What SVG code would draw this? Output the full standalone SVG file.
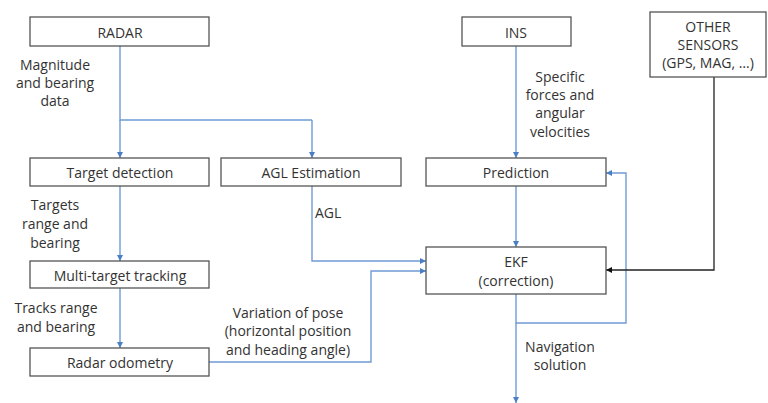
<svg xmlns="http://www.w3.org/2000/svg" width="768" height="403" viewBox="0 0 768 403">
<defs>
<marker id="ab" viewBox="0 0 6 6" refX="6" refY="3" markerWidth="6" markerHeight="6" markerUnits="userSpaceOnUse" orient="auto"><path d="M0,0 L6,3 L0,6 Z" fill="#4a7fc4"/></marker>
<marker id="ak" viewBox="0 0 6 6" refX="6" refY="3" markerWidth="6" markerHeight="6" markerUnits="userSpaceOnUse" orient="auto"><path d="M0,0 L6,3 L0,6 Z" fill="#111"/></marker>
</defs>
<style>
rect{fill:#fff;stroke:#555;stroke-width:1.3}
text{font-family:"Open Sans","Noto Sans","Liberation Sans",sans-serif;font-size:14px;fill:#333;text-anchor:middle;dominant-baseline:central}
.c{fill:none;stroke:#6f9bd6;stroke-width:1.4;marker-end:url(#ab)}
.n{fill:none;stroke:#6f9bd6;stroke-width:1.4}
.k{fill:none;stroke:#222;stroke-width:1.3;marker-end:url(#ak)}
.l{text-anchor:start}
</style>
<rect x="0" y="0" width="768" height="403" style="fill:#fff;stroke:none"/>
<g id="connectors">
<path class="n" d="M120,46 V120 H312"/>
<path class="c" d="M120,120 V158"/>
<path class="c" d="M312,120 V158"/>
<path class="c" d="M120,186 V261"/>
<path class="c" d="M120,288 V348"/>
<path class="c" d="M312,186 V261 H426"/>
<path class="c" d="M209,362 H371 V271 H426"/>
<path class="c" d="M516,46 V158"/>
<path class="c" d="M516,186 V247"/>
<path class="c" d="M516,294 V323 H626 V173 H606"/>
<path class="c" d="M516,323 V403"/>
<path class="k" d="M714,77 V270 H606"/>
</g>
<g id="radar"><rect x="30" y="17" width="179" height="29"/><text x="120" y="32">RADAR</text></g>
<g id="ins"><rect x="462" y="17" width="109" height="29"/><text x="516" y="32">INS</text></g>
<g id="other"><rect x="650" y="12" width="116" height="65"/><text x="708" y="26">OTHER</text><text x="708" y="44">SENSORS</text><text x="708" y="62">(GPS, MAG, …)</text></g>
<g id="target-detection"><rect x="30" y="158" width="179" height="28"/><text x="120" y="172">Target detection</text></g>
<g id="agl-estimation"><rect x="221" y="158" width="180" height="28"/><text x="311" y="172">AGL Estimation</text></g>
<g id="prediction"><rect x="426" y="158" width="180" height="28"/><text x="516" y="172">Prediction</text></g>
<g id="multi-target"><rect x="30" y="261" width="179" height="27"/><text x="120" y="275">Multi-target tracking</text></g>
<g id="radar-odometry"><rect x="30" y="348" width="179" height="28"/><text x="120" y="362">Radar odometry</text></g>
<g id="ekf"><rect x="426" y="247" width="180" height="47"/><text x="516" y="261">EKF</text><text x="516" y="280">(correction)</text></g>
<g id="labels">
<text x="55" y="64">Magnitude</text><text x="55" y="82">and bearing</text><text x="55" y="100">data</text>
<text x="55" y="204">Targets</text><text x="55" y="223">range and</text><text x="55" y="242">bearing</text>
<text x="56" y="307">Tracks range</text><text x="56" y="326">and bearing</text>
<text class="l" x="315" y="212">AGL</text>
<text x="288" y="312">Variation of pose</text><text x="288" y="330">(horizontal position</text><text x="288" y="349">and heading angle)</text>
<text x="560" y="76">Specific</text><text x="560" y="94">forces and</text><text x="560" y="112">angular</text><text x="560" y="131">velocities</text>
<text x="560" y="346">Navigation</text><text x="560" y="364">solution</text>
</g>
</svg>
